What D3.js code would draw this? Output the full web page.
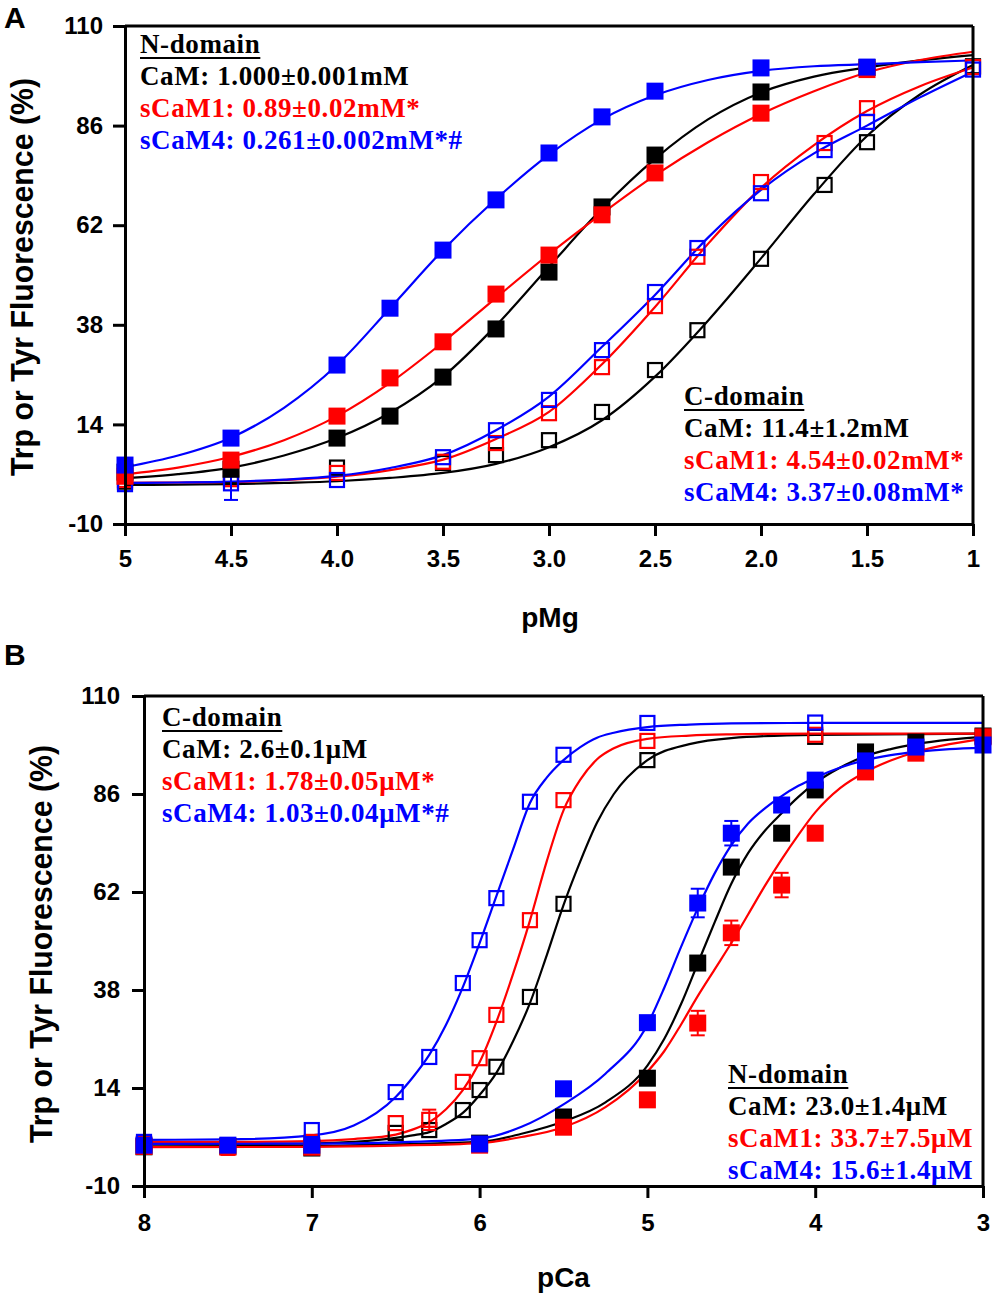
<!DOCTYPE html>
<html>
<head>
<meta charset="utf-8">
<script src="https://cdn.jsdelivr.net/npm/d3@7/dist/d3.min.js"></script>
<style>
  body { margin: 0; background: #fff; }
</style>
</head>
<body>
<svg id="chart" width="1000" height="1300"></svg>
<script>
/* ===== Panel A : pMg titrations ===== */
const pMgFilled = [5, 4.5, 4.0, 3.75, 3.5, 3.25, 3.0, 2.75, 2.5, 2.0, 1.5];
const pMgOpen   = [5, 4.5, 4.0, 3.5, 3.25, 3.0, 2.75, 2.5, 2.3, 2.0, 1.7, 1.5, 1.0];
const pMgFit    = [5, 4.75, 4.5, 4.25, 4.0, 3.75, 3.5, 3.25, 3.0, 2.75, 2.5, 2.25, 2.0, 1.75, 1.5, 1.25, 1.0];

// N-domain (filled)
const mgCaMN   = [2.5, 3.2, 10.7, 16.0, 25.4, 37.0, 50.7, 66.4, 78.9, 94.1, 100.0];
const mgSCaM1N = [1.5, 5.4, 16.0, 25.2, 33.9, 45.4, 54.8, 64.5, 74.6, 89.0, 99.5];
const mgSCaM4N = [4.2, 10.7, 28.3, 42.0, 56.0, 68.1, 79.4, 88.1, 94.3, 99.9, 100.1];
// C-domain (open)
const mgCaMC   = [0.2, 1.5, 3.6, 4.7, 6.6, 10.2, 17.0, 27.1, 36.7, 53.9, 71.7, 82.0, 100.3];
const mgSCaM1C = [0.6, 0.8, 2.3, 5.0, 9.5, 16.7, 27.8, 42.5, 54.4, 72.4, 81.8, 90.2, 100.1];
const mgSCaM4C = [-0.4, -0.2, 0.6, 6.1, 12.6, 19.9, 31.9, 45.9, 56.5, 69.7, 80.1, 86.9, 99.5];
const mgSCaM4CErr = [0, 4, 0, 0, 0, 0, 0, 0, 0, 0, 0, 0, 0];
// fitted curves
const mgFitCaMN   = [1.0, 2.0, 3.6, 6.5, 10.7, 16.8, 25.5, 37.8, 52.0, 66.0, 78.0, 87.5, 94.0, 97.8, 100.0, 101.7, 103.0];
const mgFitSCaM1N = [2.0, 3.6, 6.2, 10.2, 16.0, 24.0, 33.8, 44.5, 55.0, 64.8, 74.0, 82.0, 88.8, 94.3, 98.8, 101.8, 103.8];
const mgFitSCaM4N = [3.7, 6.5, 10.8, 18.0, 28.3, 42.0, 56.0, 68.3, 79.0, 87.5, 93.3, 97.0, 99.2, 100.3, 100.8, 101.3, 101.7];
const mgFitCaMC   = [-0.6, -0.5, -0.4, -0.1, 0.3, 1.1, 2.3, 4.5, 8.5, 15.0, 25.5, 39.0, 54.0, 69.5, 83.5, 93.5, 100.6];
const mgFitSCaM1C = [-0.1, 0.0, 0.1, 0.6, 1.4, 3.0, 5.5, 10.5, 17.0, 28.5, 42.3, 57.5, 71.0, 81.3, 89.5, 95.5, 100.0];
const mgFitSCaM4C = [-0.1, 0.0, 0.2, 0.7, 1.6, 3.5, 6.6, 12.6, 20.7, 32.7, 45.2, 59.0, 70.5, 79.3, 86.0, 92.8, 99.0];

const pMgTicks      = [5, 4.5, 4.0, 3.5, 3.0, 2.5, 2.0, 1.5, 1];
const pMgTickLabels = ["5", "4.5", "4.0", "3.5", "3.0", "2.5", "2.0", "1.5", "1"];

/* ===== Panel B : pCa titrations ===== */
const pCaFilled = [8, 7.5, 7, 6, 5.5, 5, 4.7, 4.5, 4.2, 4, 3.7, 3.4, 3];
const pCaOpen   = [8, 7.5, 7, 6.5, 6.3, 6.1, 6.0, 5.9, 5.7, 5.5, 5.0, 4.0];
const pCaFitC   = [8, 7.5, 7, 6.75, 6.5, 6.4, 6.3, 6.2, 6.1, 6.0, 5.9, 5.8, 5.7, 5.6, 5.5, 5.4, 5.3, 5.2, 5.0, 4.75, 4.5, 4.0, 3.0];
const pCaFitN   = [8, 7, 6.5, 6.0, 5.75, 5.5, 5.25, 5.0, 4.9, 4.8, 4.7, 4.6, 4.5, 4.4, 4.3, 4.2, 4.1, 4.0, 3.85, 3.7, 3.55, 3.4, 3.2, 3.0];

// N-domain (filled)
const caCaMN   = [-0.4, -0.3, -0.7, 0.5, 6.9, 16.4, 44.6, 68.1, 76.4, 87.0, 96.3, 98.7, 100.2];
const caSCaM1N = [-0.3, -0.5, -0.5, 0.0, 4.4, 11.1, 29.9, 52.0, 63.7, 76.4, 91.4, 96.0, 100.0];
const caSCaM4N = [0.0, 0.0, 0.0, 0.3, 13.8, 30.0, 59.3, 76.4, 83.3, 89.4, 94.1, 97.5, 98.0];
const caSCaM1NErr = [0, 0, 0, 0, 0, 0, 3, 3, 3, 0, 0, 0, 0];
const caSCaM4NErr = [0, 0, 0, 0, 0, 0, 3.5, 3, 0, 0, 0, 0, 0];
// C-domain (open)
const caCaMC   = [0.2, 0.0, 0.5, 3.0, 3.7, 8.6, 13.5, 19.2, 36.3, 59.1, 94.3, 100.0];
const caSCaM1C = [0.5, -0.4, 0.8, 5.4, 6.2, 15.5, 21.3, 31.9, 55.1, 84.5, 99.0, 100.5];
const caSCaM4C = [0.8, 0.0, 3.7, 13.0, 21.6, 39.7, 50.2, 60.5, 84.1, 95.6, 103.4, 103.5];
const caSCaM1CErr = [0, 2, 0, 0, 2.5, 0, 0, 0, 0, 0, 0, 0];
// fitted curves
const caFitCaMC   = [0.3, 0.3, 0.4, 0.8, 1.8, 2.4, 3.2, 5.2, 7.9, 12.3, 17.7, 25.5, 34.8, 46.5, 58.8, 69.5, 79.0, 86.0, 94.3, 98.2, 99.7, 100.5, 100.8];
const caFitSCaM1C = [0.8, 0.8, 1.0, 1.5, 2.6, 3.8, 5.6, 8.8, 13.5, 20.3, 30.2, 42.0, 55.0, 69.5, 82.0, 89.5, 94.5, 97.2, 99.5, 100.3, 100.6, 100.8, 100.8];
const caFitSCaM4C = [1.3, 1.4, 2.4, 4.8, 11.8, 16.5, 22.1, 29.5, 38.7, 49.5, 61.0, 72.5, 83.8, 90.0, 94.3, 97.5, 99.8, 101.0, 102.4, 103.0, 103.3, 103.4, 103.4];
const caFitCaMN   = [-0.3, -0.2, 0.2, 0.8, 2.8, 5.8, 10.5, 19.5, 26.0, 34.5, 44.5, 54.5, 64.0, 71.5, 77.0, 81.3, 85.3, 88.7, 92.5, 95.3, 97.0, 98.2, 99.3, 100.0];
const caFitSCaM1N = [-0.5, -0.4, -0.1, 0.5, 2.0, 4.4, 9.3, 18.0, 23.0, 29.5, 36.5, 43.0, 49.5, 56.5, 63.5, 70.0, 76.0, 81.5, 87.5, 91.4, 94.2, 96.3, 98.2, 99.5];
const caFitSCaM4N = [0.3, 0.4, 0.7, 1.6, 4.5, 10.0, 17.5, 29.5, 38.5, 48.5, 58.0, 66.5, 73.5, 78.8, 82.5, 85.5, 88.0, 90.0, 92.5, 94.3, 95.5, 96.3, 97.0, 97.3];

const pCaTicks      = [8, 7, 6, 5, 4, 3];
const pCaTickLabels = ["8", "7", "6", "5", "4", "3"];

const yTicks      = [-10, 14, 38, 62, 86, 110];
const yTickLabels = ["-10", "14", "38", "62", "86", "110"];

/* ===== Palette / fonts ===== */
const cBlack = "#000000", cRed = "#ff0000", cBlue = "#0000ff";
const sansFont  = "Arial, 'Liberation Sans', Helvetica, sans-serif";
const serifFont = "'Times New Roman', 'Liberation Serif', serif";

const svg = d3.select("#chart");

function drawPanel(p){
  const x = d3.scaleLinear().domain(p.xDomain).range([p.left, p.right]);
  const y = d3.scaleLinear().domain([-10, 110]).range([p.bottom, p.top]);
  const g = svg.append("g");

  // fitted curves
  const line = d3.line().x(d => x(d[0])).y(d => y(d[1])).curve(d3.curveMonotoneX);
  p.series.forEach(s => {
    g.append("path").datum(d3.zip(s.fitX, s.fit))
      .attr("d", line).attr("fill", "none")
      .attr("stroke", s.color).attr("stroke-width", 2.2);
  });

  // markers (open first, filled on top)
  const ordered = p.series.filter(s => !s.filled).concat(p.series.filter(s => s.filled));
  ordered.forEach(s => {
    const pts = d3.zip(s.px, s.py, s.err || s.px.map(() => 0));
    const mg = g.append("g");
    pts.forEach(([px, py, e]) => {
      const cx = x(px), cy = y(py);
      if (e > 0){
        mg.append("line").attr("x1", cx).attr("x2", cx).attr("y1", y(py - e)).attr("y2", y(py + e))
          .attr("stroke", s.color).attr("stroke-width", 2);
        [py - e, py + e].forEach(v => {
          mg.append("line").attr("x1", cx - 7).attr("x2", cx + 7).attr("y1", y(v)).attr("y2", y(v))
            .attr("stroke", s.color).attr("stroke-width", 2);
        });
      }
      if (s.filled){
        mg.append("rect").attr("x", cx - 8.5).attr("y", cy - 8.5).attr("width", 17).attr("height", 17)
          .attr("fill", s.color);
      } else {
        mg.append("rect").attr("x", cx - 7).attr("y", cy - 7).attr("width", 14).attr("height", 14)
          .attr("fill", "none").attr("stroke", s.color).attr("stroke-width", 2.2);
      }
    });
  });

  // frame top / right
  g.append("line").attr("x1", p.left).attr("x2", p.right).attr("y1", p.top).attr("y2", p.top)
    .attr("stroke", "#000").attr("stroke-width", 3);
  g.append("line").attr("x1", p.right).attr("x2", p.right).attr("y1", p.top).attr("y2", p.bottom)
    .attr("stroke", "#000").attr("stroke-width", 3);

  // axes
  const xAxis = d3.axisBottom(x).tickValues(p.xTicks)
    .tickFormat((d, i) => p.xTickLabels[i]).tickSize(12).tickSizeOuter(0).tickPadding(p.xPad);
  const yAxis = d3.axisLeft(y).tickValues(yTicks).tickFormat((d, i) => yTickLabels[i])
    .tickSize(12).tickSizeOuter(0).tickPadding(p.yPad);

  [g.append("g").attr("transform", `translate(0,${p.bottom})`).call(xAxis),
   g.append("g").attr("transform", `translate(${p.left},0)`).call(yAxis)].forEach(ax => {
    ax.select(".domain").attr("stroke-width", 3);
    ax.selectAll(".tick line").attr("stroke-width", 3);
    ax.selectAll(".tick text").attr("fill", "#000")
      .style("font-family", sansFont).style("font-weight", "bold").style("font-size", "24px");
  });

  // axis titles
  g.append("text").attr("x", (p.left + p.right) / 2 + p.xTitleShift).attr("y", p.xTitleY)
    .attr("text-anchor", "middle").attr("fill", "#000")
    .style("font-family", sansFont).style("font-weight", "bold").style("font-size", "28px")
    .text(p.xTitle);

  g.append("text")
    .attr("transform", `translate(${p.yTitleX},${p.yTitleY}) rotate(-90)`)
    .attr("text-anchor", "middle").attr("fill", "#000")
    .attr("textLength", 398).attr("lengthAdjust", "spacingAndGlyphs")
    .style("font-family", sansFont).style("font-weight", "bold").style("font-size", "31px")
    .text("Trp or Tyr Fluorescence (%)");

  // panel letter
  g.append("text").attr("x", 4).attr("y", p.letterY).attr("fill", "#000")
    .style("font-family", sansFont).style("font-weight", "bold").style("font-size", "30px")
    .text(p.letter);

  p.legends.forEach(l => drawLegend(g, l));
}

function drawLegend(g, { x, y, title, rows }){
  const lh = 32;
  const t = g.append("text").attr("x", x).attr("y", y).attr("fill", "#000")
    .style("font-family", serifFont).style("font-weight", "bold").style("font-size", "27px")
    .style("letter-spacing", "0.6px")
    .text(title);
  const w = t.node().getComputedTextLength();
  g.append("line").attr("x1", x).attr("x2", x + w).attr("y1", y + 5).attr("y2", y + 5)
    .attr("stroke", "#000").attr("stroke-width", 2);
  rows.forEach((r, i) => {
    g.append("text").attr("x", x).attr("y", y + lh * (i + 1)).attr("fill", r.color)
      .style("font-family", serifFont).style("font-weight", "bold").style("font-size", "27px")
      .style("letter-spacing", "0.6px")
      .text(r.text);
  });
}

drawPanel({
  letter: "A", letterY: 28,
  left: 125, right: 973, top: 26, bottom: 524,
  xDomain: [5, 1], xTicks: pMgTicks, xTickLabels: pMgTickLabels,
  xPad: 14, yPad: 10,
  xTitle: "pMg", xTitleY: 627, xTitleShift: 1,
  yTitleX: 33, yTitleY: 277,
  series: [
    { color: cBlack, filled: false, px: pMgOpen, py: mgCaMC, fitX: pMgFit, fit: mgFitCaMC },
    { color: cRed,   filled: false, px: pMgOpen, py: mgSCaM1C, fitX: pMgFit, fit: mgFitSCaM1C },
    { color: cBlue,  filled: false, px: pMgOpen, py: mgSCaM4C, err: mgSCaM4CErr, fitX: pMgFit, fit: mgFitSCaM4C },
    { color: cBlack, filled: true,  px: pMgFilled, py: mgCaMN, fitX: pMgFit, fit: mgFitCaMN },
    { color: cRed,   filled: true,  px: pMgFilled, py: mgSCaM1N, fitX: pMgFit, fit: mgFitSCaM1N },
    { color: cBlue,  filled: true,  px: pMgFilled, py: mgSCaM4N, fitX: pMgFit, fit: mgFitSCaM4N }
  ],
  legends: [
    { x: 140, y: 53, title: "N-domain", rows: [
      { text: "CaM: 1.000±0.001mM", color: cBlack },
      { text: "sCaM1: 0.89±0.02mM*", color: cRed },
      { text: "sCaM4: 0.261±0.002mM*#", color: cBlue } ] },
    { x: 684, y: 405, title: "C-domain", rows: [
      { text: "CaM: 11.4±1.2mM", color: cBlack },
      { text: "sCaM1: 4.54±0.02mM*", color: cRed },
      { text: "sCaM4: 3.37±0.08mM*", color: cBlue } ] }
  ]
});

drawPanel({
  letter: "B", letterY: 665,
  left: 144, right: 983, top: 696, bottom: 1186,
  xDomain: [8, 3], xTicks: pCaTicks, xTickLabels: pCaTickLabels,
  xPad: 16, yPad: 12,
  xTitle: "pCa", xTitleY: 1287, xTitleShift: 0,
  yTitleX: 52, yTitleY: 944,
  series: [
    { color: cBlack, filled: false, px: pCaOpen, py: caCaMC, fitX: pCaFitC, fit: caFitCaMC },
    { color: cRed,   filled: false, px: pCaOpen, py: caSCaM1C, err: caSCaM1CErr, fitX: pCaFitC, fit: caFitSCaM1C },
    { color: cBlue,  filled: false, px: pCaOpen, py: caSCaM4C, fitX: pCaFitC, fit: caFitSCaM4C },
    { color: cBlack, filled: true,  px: pCaFilled, py: caCaMN, fitX: pCaFitN, fit: caFitCaMN },
    { color: cRed,   filled: true,  px: pCaFilled, py: caSCaM1N, err: caSCaM1NErr, fitX: pCaFitN, fit: caFitSCaM1N },
    { color: cBlue,  filled: true,  px: pCaFilled, py: caSCaM4N, err: caSCaM4NErr, fitX: pCaFitN, fit: caFitSCaM4N }
  ],
  legends: [
    { x: 162, y: 726, title: "C-domain", rows: [
      { text: "CaM: 2.6±0.1μM", color: cBlack },
      { text: "sCaM1: 1.78±0.05μM*", color: cRed },
      { text: "sCaM4: 1.03±0.04μM*#", color: cBlue } ] },
    { x: 728, y: 1083, title: "N-domain", rows: [
      { text: "CaM: 23.0±1.4μM", color: cBlack },
      { text: "sCaM1: 33.7±7.5μM", color: cRed },
      { text: "sCaM4: 15.6±1.4μM", color: cBlue } ] }
  ]
});
</script>
</body>
</html>
